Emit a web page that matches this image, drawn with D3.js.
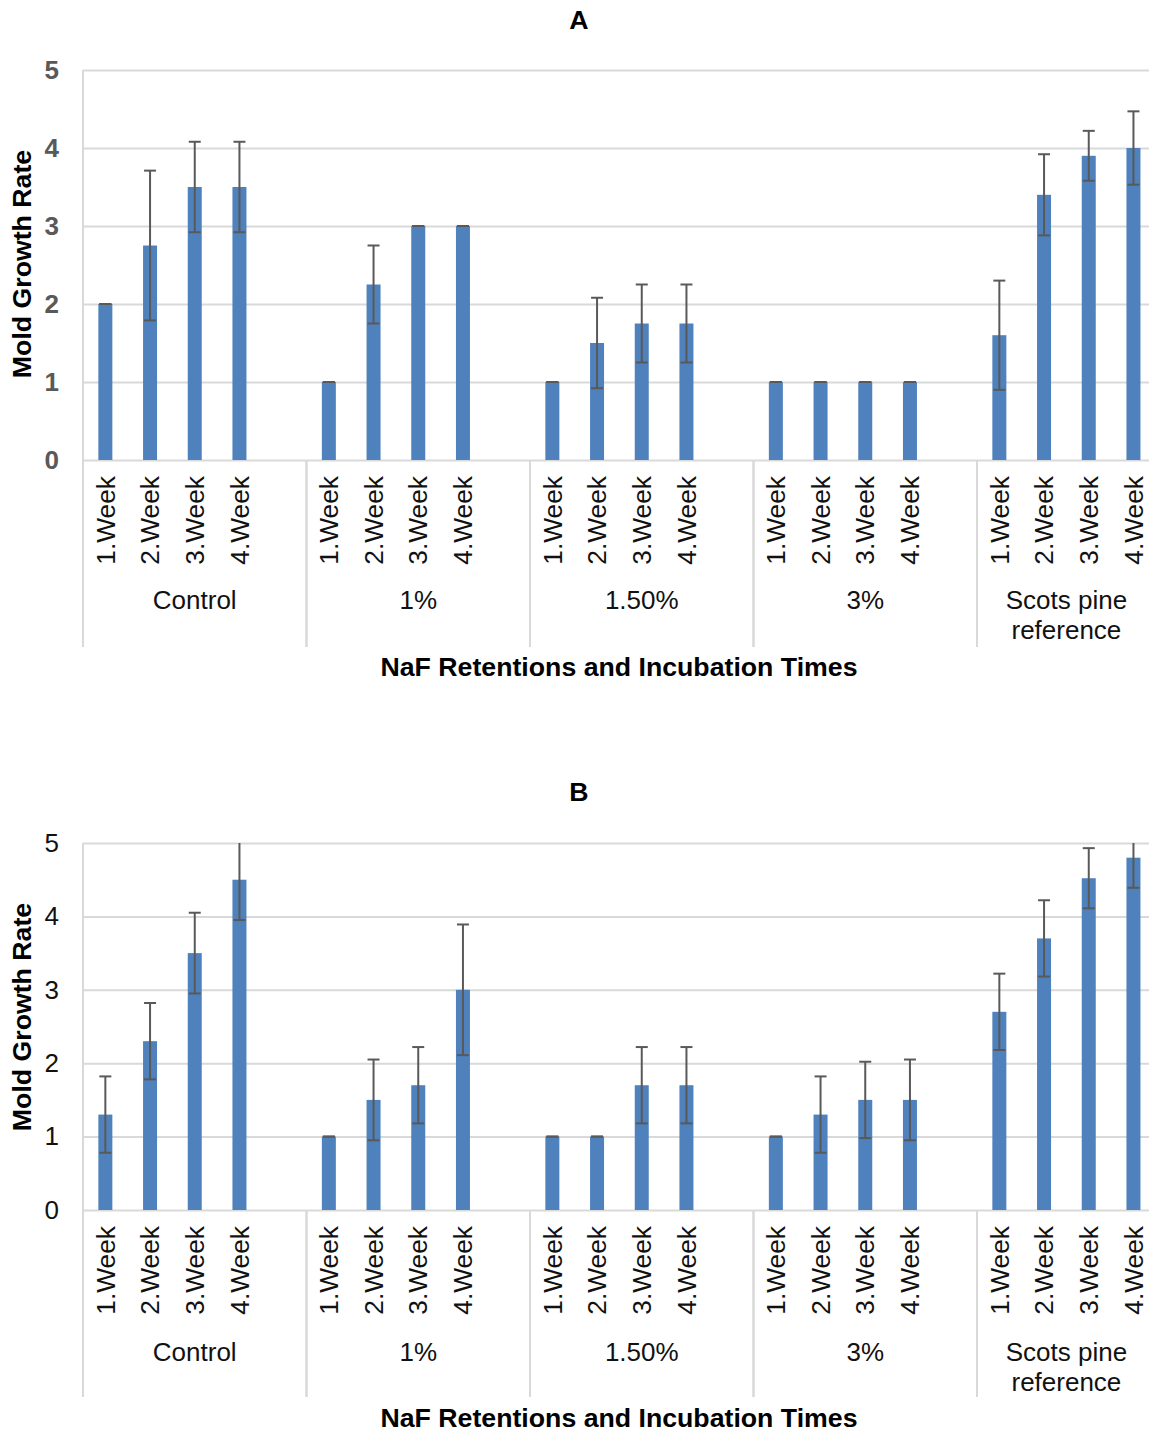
<!DOCTYPE html>
<html lang="en">
<head>
  <meta charset="UTF-8">
  <title>Mold Growth Rate</title>
  <script src="https://d3js.org/d3.v7.min.js"></script>
  <style>
    body { margin: 0; background: #fff; }
    svg { display: block; font-family: Arial, "Liberation Sans", sans-serif; }
    .grid line { stroke: #d9d9d9; stroke-width: 2px; }
    .sep { stroke: #d9d9d9; stroke-width: 2px; }
    .bar { fill: #4f81bd; }
    .err { stroke: #595959; stroke-width: 2px; fill: none; }
  </style>
</head>
<body>
<script>
const groups = ["Control", "1%", "1.50%", "3%", "Scots pine reference"];
const groupLines = [["Control"], ["1%"], ["1.50%"], ["3%"], ["Scots pine", "reference"]];
const weeks = ["1.Week", "2.Week", "3.Week", "4.Week"];
const yTicks = [0, 1, 2, 3, 4, 5];

// chart A: means and error (+/-) per group, week 1..4
const meanA = [[2, 2.75, 3.5, 3.5], [1, 2.25, 3, 3], [1, 1.5, 1.75, 1.75], [1, 1, 1, 1], [1.6, 3.4, 3.9, 4.0]];
const errA  = [[0, 0.96, 0.58, 0.58], [0, 0.5, 0, 0], [0, 0.58, 0.5, 0.5], [0, 0, 0, 0], [0.7, 0.52, 0.32, 0.47]];

// chart B
const meanB = [[1.3, 2.3, 3.5, 4.5], [1, 1.5, 1.7, 3.0], [1, 1, 1.7, 1.7], [1, 1.3, 1.5, 1.5], [2.7, 3.7, 4.52, 4.8]];
const errB  = [[0.52, 0.52, 0.55, 0.55], [0, 0.55, 0.52, 0.89], [0, 0, 0.52, 0.52], [0, 0.52, 0.52, 0.55], [0.52, 0.52, 0.41, 0.41]];

const W = 1149, H = 1433;
const svg = d3.select("body").append("svg").attr("width", W).attr("height", H);

// category slots: each group has 4 weeks + an empty slot (except the last)
const keys = [];
groups.forEach((g, i) => {
  weeks.forEach(w => keys.push(g + "|" + w));
  if (i < groups.length - 1) keys.push(g + "|gap");
});
const plotLeft = 83, slotW = 44.7;
const x = d3.scaleBand().domain(keys).range([plotLeft, plotLeft + keys.length * slotW]).padding(0);
const barW = 14;

function drawChart(cfg) {
  const g = svg.append("g");
  const y = d3.scaleLinear().domain([0, 5]).range([cfg.bottom, cfg.top]);

  const clipId = "clip" + cfg.title;
  g.append("clipPath").attr("id", clipId)
    .append("rect").attr("x", 0).attr("y", cfg.top).attr("width", W).attr("height", cfg.bottom - cfg.top + 20);

  // title
  g.append("text").attr("x", 579).attr("y", cfg.titleY).attr("text-anchor", "middle")
    .style("font-size", "26.7px").style("font-weight", "bold").text(cfg.title);

  // y axis with gridlines
  const axis = g.append("g").attr("class", "grid")
    .attr("transform", `translate(${plotLeft},0)`)
    .call(d3.axisLeft(y).tickValues(yTicks).tickSize(-(W - plotLeft)).tickPadding(24).tickFormat(d3.format("d")));
  axis.select(".domain").remove();
  axis.selectAll("text")
    .style("font-size", "26px")
    .style("font-family", "Arial, 'Liberation Sans', sans-serif")
    .style("font-weight", cfg.boldTicks ? "bold" : "normal")
    .attr("fill", cfg.boldTicks ? "#595959" : "#111");

  g.append("line").attr("class", "sep")
    .attr("x1", plotLeft).attr("x2", plotLeft).attr("y1", cfg.top).attr("y2", cfg.bottom);

  // y title
  g.append("text")
    .attr("transform", `translate(22,${cfg.yTitleY}) rotate(-90)`)
    .attr("text-anchor", "middle").attr("dy", "0.35em")
    .style("font-size", "26.7px").style("font-weight", "bold")
    .text("Mold Growth Rate");

  // bars
  const rows = [];
  groups.forEach((gr, gi) => weeks.forEach((w, wi) => {
    rows.push({ key: gr + "|" + w, week: w, v: cfg.mean[gi][wi], e: cfg.err[gi][wi] });
  }));
  const cx = d => x(d.key) + x.bandwidth() / 2;

  g.selectAll(".bar").data(rows).enter().append("rect")
    .attr("class", "bar")
    .attr("x", d => cx(d) - barW / 2)
    .attr("y", d => y(d.v))
    .attr("width", barW)
    .attr("height", d => y(0) - y(d.v));

  // error bars
  const eg = g.append("g").attr("clip-path", `url(#${clipId})`);
  const eb = eg.selectAll(".eb").data(rows).enter().append("g");
  eb.append("line").attr("class", "err")
    .attr("x1", cx).attr("x2", cx)
    .attr("y1", d => y(d.v + d.e)).attr("y2", d => y(d.v - d.e));
  [1, -1].forEach(s => {
    eb.append("line").attr("class", "err")
      .attr("x1", d => cx(d) - 6).attr("x2", d => cx(d) + 6)
      .attr("y1", d => y(d.v + s * d.e)).attr("y2", d => y(d.v + s * d.e));
  });

  // week labels
  g.selectAll(".wk").data(rows).enter().append("text")
    .attr("transform", d => `translate(${cx(d)},${cfg.bottom + 16}) rotate(-90)`)
    .attr("text-anchor", "end").attr("dy", "0.35em")
    .style("font-size", "26.3px").attr("fill", "#111")
    .text(d => d.week);

  // group separators and labels
  groups.forEach((gr, gi) => {
    const x0 = x(gr + "|1.Week");
    const x1 = x0 + (gi < groups.length - 1 ? 5 : 4) * x.bandwidth();
    g.append("line").attr("class", "sep")
      .attr("x1", x0).attr("x2", x0).attr("y1", cfg.bottom).attr("y2", cfg.sepBottom);
    g.append("line").attr("class", "sep")
      .attr("x1", x1).attr("x2", x1).attr("y1", cfg.bottom).attr("y2", cfg.sepBottom);
    groupLines[gi].forEach((ln, li) => {
      g.append("text").attr("x", (x0 + x1) / 2).attr("y", cfg.groupY + li * 30)
        .attr("text-anchor", "middle").attr("dy", "0.35em")
        .style("font-size", "26px").attr("fill", "#111").text(ln);
    });
  });

  // x title
  g.append("text").attr("x", 619).attr("y", cfg.xTitleY).attr("text-anchor", "middle").attr("dy", "0.35em")
    .style("font-size", "26.7px").style("font-weight", "bold")
    .text("NaF Retentions and Incubation Times");
}

drawChart({ title: "A", mean: meanA, err: errA, top: 70, bottom: 460, titleY: 29, yTitleY: 264,
  groupY: 600, sepBottom: 647, xTitleY: 667, boldTicks: true });
drawChart({ title: "B", mean: meanB, err: errB, top: 843, bottom: 1210, titleY: 801, yTitleY: 1017,
  groupY: 1352, sepBottom: 1397, xTitleY: 1418, boldTicks: false });
</script>
</body>
</html>
